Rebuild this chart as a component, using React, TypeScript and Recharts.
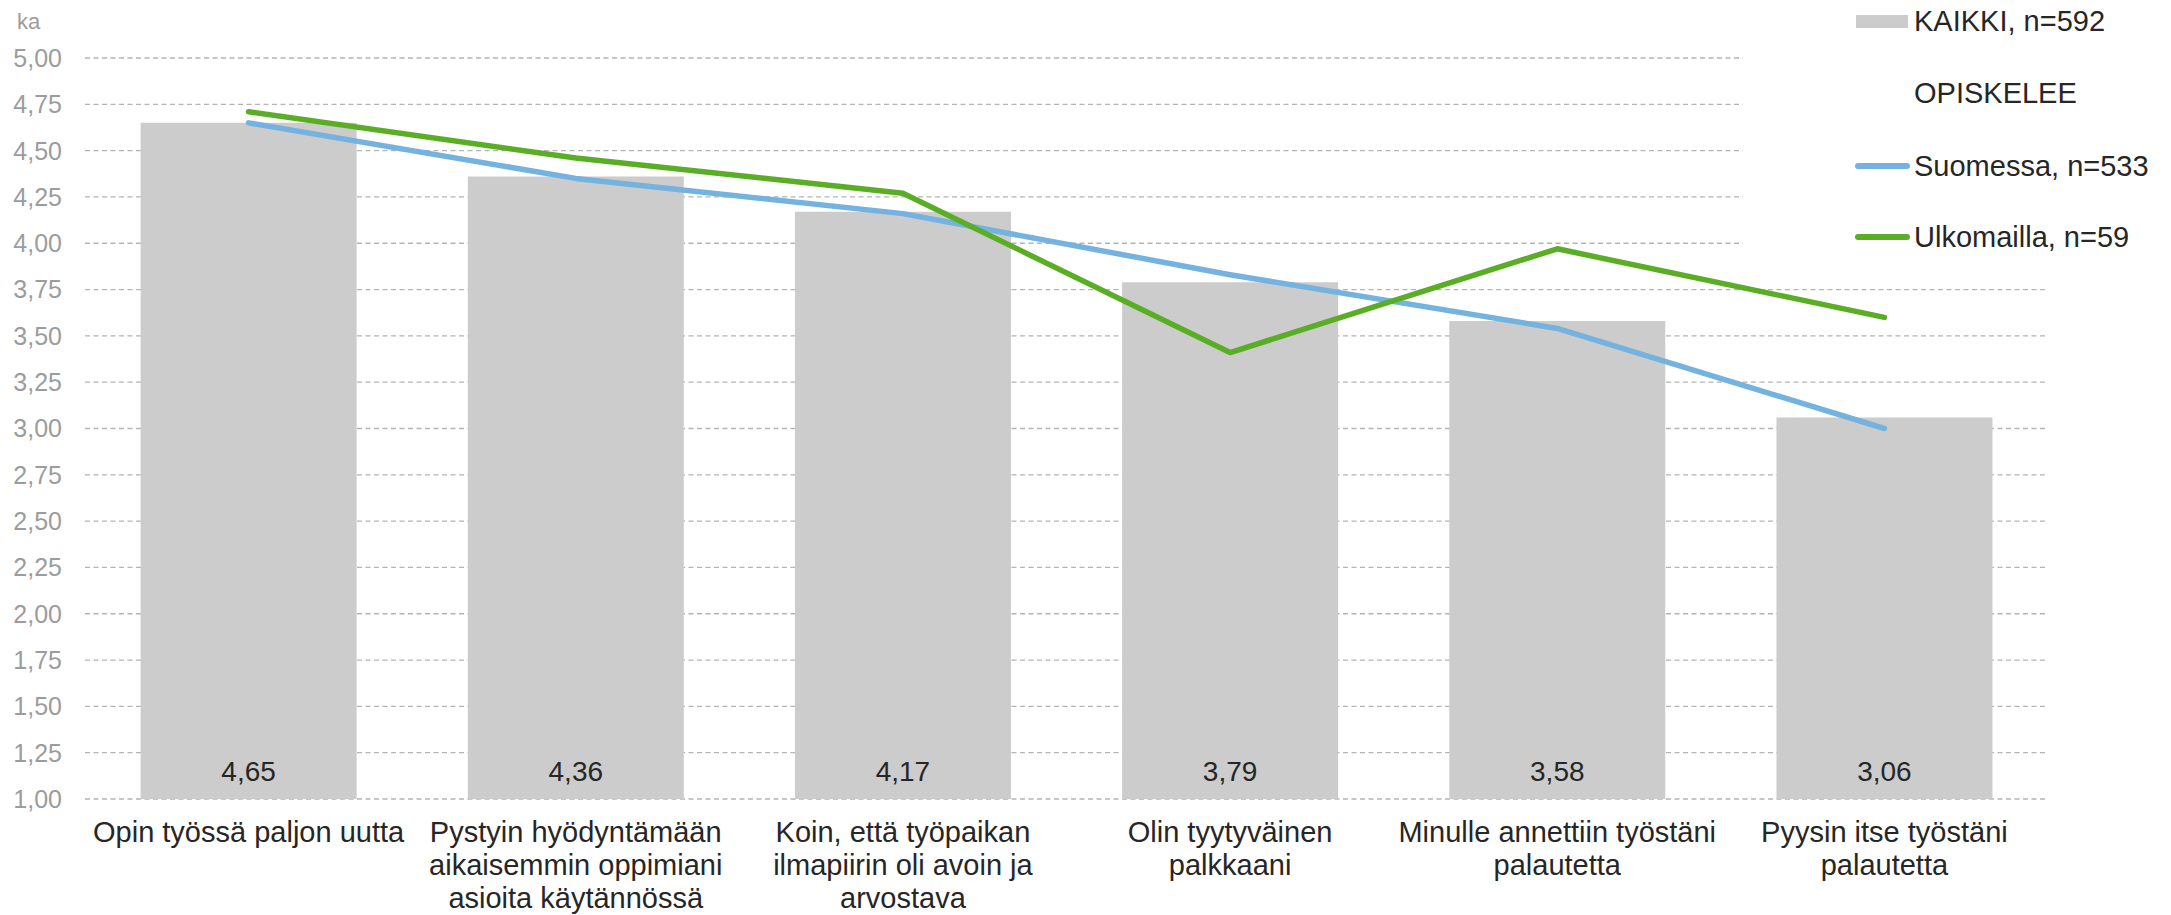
import {
  Bar,
  CartesianGrid,
  ComposedChart,
  LabelList,
  Legend,
  Line,
  XAxis,
  YAxis,
} from 'recharts';

const categories = [
  ['Opin työssä paljon uutta'],
  ['Pystyin hyödyntämään', 'aikaisemmin oppimiani', 'asioita käytännössä'],
  ['Koin, että työpaikan', 'ilmapiirin oli avoin ja', 'arvostava'],
  ['Olin tyytyväinen', 'palkkaani'],
  ['Minulle annettiin työstäni', 'palautetta'],
  ['Pyysin itse työstäni', 'palautetta'],
];

const kaikki = [4.65, 4.36, 4.17, 3.79, 3.58, 3.06];
const suomessa = [4.65, 4.35, 4.16, 3.83, 3.54, 3.0];
const ulkomailla = [4.71, 4.46, 4.27, 3.41, 3.97, 3.6];

const yTicks = [1, 1.25, 1.5, 1.75, 2, 2.25, 2.5, 2.75, 3, 3.25, 3.5, 3.75, 4, 4.25, 4.5, 4.75, 5];

const seriesNames = {
  kaikki: 'KAIKKI, n=592',
  group: 'OPISKELEE',
  suomessa: 'Suomessa, n=533',
  ulkomailla: 'Ulkomailla, n=59',
};

const data = categories.map((lines, i) => ({
  name: lines.join(' '),
  kaikki: kaikki[i],
  suomessa: suomessa[i],
  ulkomailla: ulkomailla[i],
}));

const FONT = '"Liberation Sans", Arial, sans-serif';
const BAR = '#CCCCCC';
const BLUE = '#74B2DF';
const GREEN = '#5AAE26';
const TEXT = '#262626';

const fmt = (v: number) => v.toFixed(2).replace('.', ',');

function CategoryTick(props: any) {
  const { x, y, index, payload } = props;
  const lines =
    categories[index] ?? categories.find((c) => c.join(' ') === payload?.value) ?? [];
  return (
    <text x={x} y={y + 43} textAnchor="middle" fontFamily={FONT} fontSize={29} fill={TEXT}>
      {lines.map((line: string, i: number) => (
        <tspan key={i} x={x} dy={i === 0 ? 0 : 33}>
          {line}
        </tspan>
      ))}
    </text>
  );
}

function BarValue(props: any) {
  const { x, y, width, height, value } = props;
  return (
    <text
      x={x + width / 2}
      y={y + height - 18}
      textAnchor="middle"
      fontFamily={FONT}
      fontSize={28}
      fill={TEXT}
    >
      {fmt(value)}
    </text>
  );
}

function LegendBox() {
  const row = (top: number): React.CSSProperties => ({
    position: 'absolute',
    left: 171,
    top: top - 17,
    lineHeight: '34px',
    whiteSpace: 'nowrap',
  });
  const line = (top: number, color: string): React.CSSProperties => ({
    position: 'absolute',
    left: 112,
    top: top - 3,
    width: 55,
    height: 6,
    borderRadius: 3,
    background: color,
  });
  return (
    <div
      style={{
        position: 'relative',
        width: 428,
        height: 265,
        background: '#fff',
        fontFamily: FONT,
        fontSize: 29,
        color: TEXT,
      }}
    >
      <div style={{ position: 'absolute', left: 113, top: 15, width: 52, height: 13, background: BAR }} />
      <div style={row(21)}>{seriesNames.kaikki}</div>
      <div style={row(93)}>{seriesNames.group}</div>
      <div style={line(166, BLUE)} />
      <div style={row(166)}>{seriesNames.suomessa}</div>
      <div style={line(237, GREEN)} />
      <div style={row(237)}>{seriesNames.ulkomailla}</div>
    </div>
  );
}

export default function App() {
  return (
    <div style={{ position: 'absolute', left: 0, top: 0, background: '#fff' }}>
      <ComposedChart
        width={2171}
        height={915}
        data={data}
        margin={{ top: 58, right: 123, bottom: 0, left: 0 }}
        barCategoryGap="17%"
      >
        <CartesianGrid
          vertical={false}
          stroke="#B4B4B4"
          strokeWidth={1.3}
          strokeDasharray="5 3.5"
        />
        <XAxis
          dataKey="name"
          height={116}
          axisLine={false}
          tickLine={false}
          tickSize={0}
          tickMargin={0}
          interval={0}
          tick={<CategoryTick />}
        />
        <YAxis
          width={85}
          domain={[1, 5]}
          ticks={yTicks}
          interval={0}
          axisLine={false}
          tickLine={false}
          tickSize={0}
          tickMargin={23}
          tickFormatter={fmt}
          tick={{ fontFamily: FONT, fontSize: 25, fill: '#9C9C9C' }}
          label={{
            content: () => (
              <text x={17} y={29} fontFamily={FONT} fontSize={22} fill="#9C9C9C">
                ka
              </text>
            ),
          }}
        />
        <Legend
          layout="horizontal"
          verticalAlign="middle"
          align="center"
          content={<LegendBox />}
          wrapperStyle={{ position: 'absolute', top: 0, left: 1743, width: 428, height: 265 }}
        />
        <Bar dataKey="kaikki" name={seriesNames.kaikki} fill={BAR} isAnimationActive={false}>
          <LabelList dataKey="kaikki" content={<BarValue />} />
        </Bar>
        <Line
          dataKey="suomessa"
          name={seriesNames.suomessa}
          type="linear"
          stroke={BLUE}
          strokeWidth={5.5}
          strokeLinecap="round"
          strokeLinejoin="round"
          dot={false}
          activeDot={false}
          isAnimationActive={false}
        />
        <Line
          dataKey="ulkomailla"
          name={seriesNames.ulkomailla}
          type="linear"
          stroke={GREEN}
          strokeWidth={5.5}
          strokeLinecap="round"
          strokeLinejoin="round"
          dot={false}
          activeDot={false}
          isAnimationActive={false}
        />
      </ComposedChart>
    </div>
  );
}
